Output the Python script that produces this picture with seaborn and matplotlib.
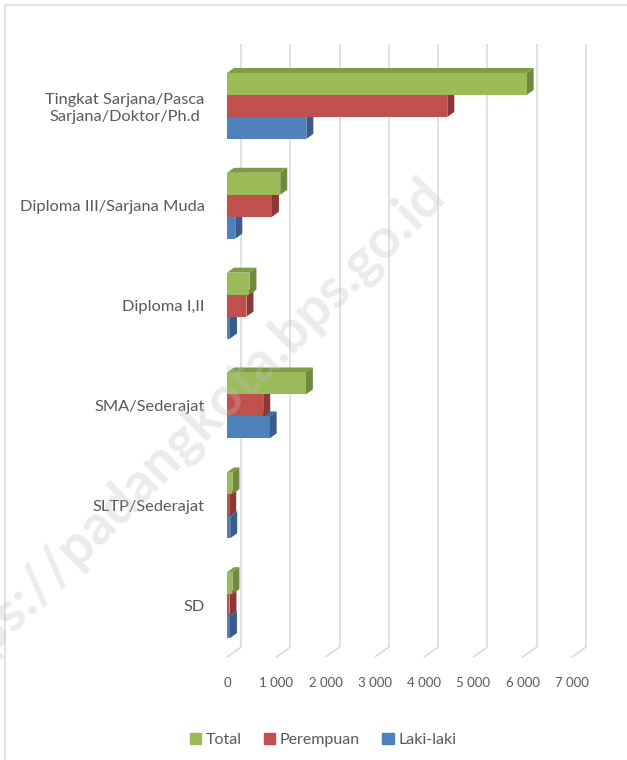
import numpy as np
import pandas as pd
import matplotlib
matplotlib.use("Agg")
import matplotlib.pyplot as plt
from matplotlib.patches import Polygon
from matplotlib.lines import Line2D
import seaborn as sns

# --- data ---
CATEGORIES = ["Tingkat Sarjana/Pasca\nSarjana/Doktor/Ph.d", "Diploma III/Sarjana Muda",
              "Diploma I,II", "SMA/Sederajat", "SLTP/Sederajat", "SD"]
TOTAL = [6080, 1080, 455, 1600, 110, 110]
PEREMPUAN = [4470, 912, 395, 735, 45, 50]
LAKI = [1610, 168, 60, 865, 65, 60]
SERIES = ["Total", "Perempuan", "Laki-laki"]
XTICKS = [0, 1000, 2000, 3000, 4000, 5000, 6000, 7000]

COLORS = {"Total": "#9BBB59", "Perempuan": "#C0504D", "Laki-laki": "#4F81BD"}
SIDE = {"Total": "#71893F", "Perempuan": "#8C3836", "Laki-laki": "#385D8A"}
TOPC = {"Total": "#7E9C47", "Perempuan": "#A3403D", "Laki-laki": "#3F6A9E"}

df = pd.DataFrame({
    "kategori": CATEGORIES * 3,
    "jumlah": TOTAL + PEREMPUAN + LAKI,
    "seri": [s for s in SERIES for _ in CATEGORIES],
})

sns.set_theme(style="white")
plt.rcParams["font.family"] = ["Lato", "DejaVu Sans"]
TXT = "#595959"

fig = plt.figure(figsize=(6.27, 7.6), dpi=100)
ax = fig.add_axes([227 / 627, 1 - 655 / 760, 345 / 627, 599 / 760])

sns.barplot(data=df, y="kategori", x="jumlah", hue="seri", order=CATEGORIES,
            hue_order=SERIES, palette=COLORS, orient="h", width=0.66,
            saturation=1, ax=ax, legend=False)
ax.set_xlim(0, 7000)
ax.set_ylim(5.5, -0.5)

# pseudo-3D depth in data units (px -> data)
DX = 7 / 49.3 * 1000
DY = 0.05
zo = {"Total": 4, "Perempuan": 3, "Laki-laki": 2}
for s, cont in zip(SERIES, ax.containers):
    for bar in cont:
        x0, y0 = bar.get_x(), bar.get_y()
        w, h = bar.get_width(), bar.get_height()
        x1 = x0 + w
        bar.set_zorder(zo[s] + 0.1)
        bar.set_edgecolor("none")
        top = Polygon([(x0, y0), (x1, y0), (x1 + DX, y0 - DY), (x0 + DX, y0 - DY)],
                      closed=True, fc=TOPC[s], ec="none", zorder=zo[s], clip_on=False)
        side = Polygon([(x1, y0), (x1 + DX, y0 - DY), (x1 + DX, y0 + h - DY), (x1, y0 + h)],
                       closed=True, fc=SIDE[s], ec="none", zorder=zo[s], clip_on=False)
        ax.add_patch(top)
        ax.add_patch(side)

# back-wall gridlines with floor diagonals
GX = 14 / 49.3 * 1000
for t in XTICKS:
    ax.plot([t + GX, t + GX], [-0.62, 5.42], color="#D9D9D9", lw=1.1, zorder=0.5,
            clip_on=False, solid_capstyle="butt")
    ax.plot([t + GX, t], [5.42, 5.52], color="#D9D9D9", lw=1.1, zorder=0.5,
            clip_on=False)

for sp in ax.spines.values():
    sp.set_visible(False)
ax.grid(False)
ax.set_xticks(XTICKS)
ax.set_xticklabels([f"{t:,}".replace(",", " ") for t in XTICKS])
ax.tick_params(axis="x", length=0, pad=16, labelsize=9.5, labelcolor=TXT)
ax.tick_params(axis="y", length=0, pad=16, labelsize=11.8, labelcolor=TXT)
for lab in ax.get_yticklabels():
    lab.set_multialignment("center")
ax.set_xlabel("")
ax.set_ylabel("")

# legend
handles = [plt.Rectangle((0, 0), 1, 1, color=COLORS[s]) for s in SERIES]
fig.legend(handles, SERIES, loc="center", bbox_to_anchor=(323 / 627, 1 - 740 / 760),
           ncol=3, frameon=False, fontsize=11.5, labelcolor=TXT, handlelength=0.7,
           handleheight=0.7, handletextpad=0.3, columnspacing=1.4)

# chart frame
fig.add_artist(Line2D([5 / 627, 1], [1 - 5 / 760, 1 - 5 / 760], color="#E3E3E3", lw=1.5))
fig.add_artist(Line2D([5 / 627, 5 / 627], [0, 1 - 5 / 760], color="#E3E3E3", lw=1.5))

# watermark
fig.text(182 / 627, 1 - 440 / 760, "https://padangkota.bps.go.id", rotation=45,
         ha="center", va="center", fontsize=40, fontweight="bold", color="#BFBFBF",
         alpha=0.3, zorder=10)

fig.savefig("out.png", dpi=100)
